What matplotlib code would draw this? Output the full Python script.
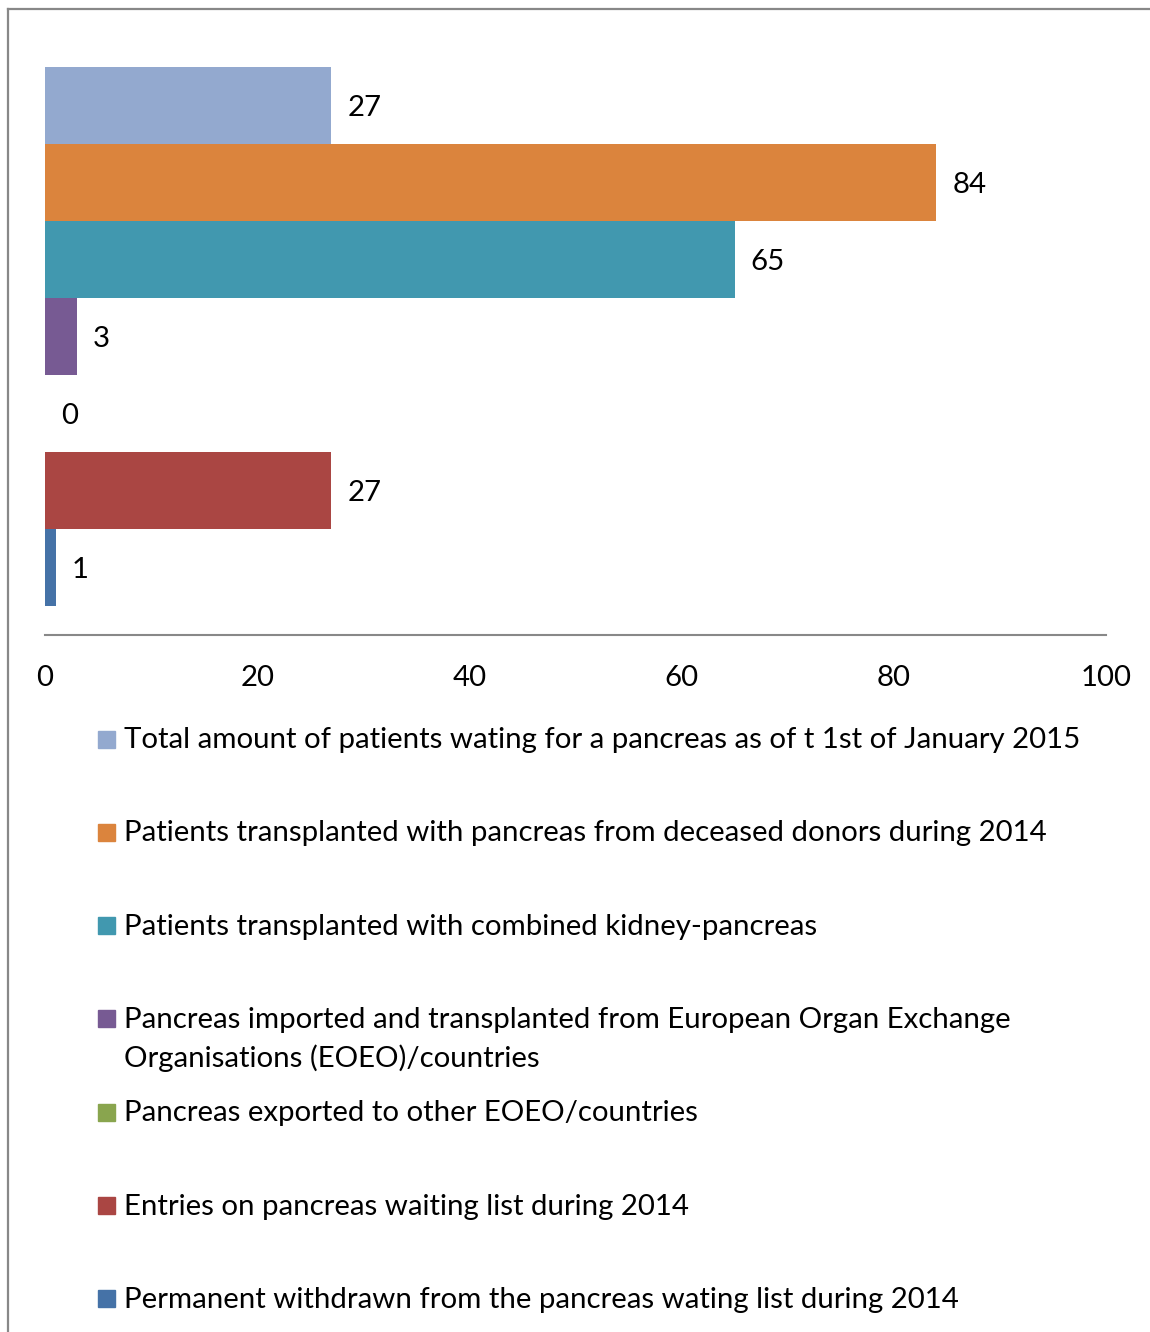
import matplotlib

matplotlib.use("Agg")
import matplotlib.pyplot as plt
from matplotlib.patches import Rectangle
from matplotlib.lines import Line2D

# series, top to bottom as drawn
labels = [
    "Total amount of patients wating for a pancreas as of t 1st of January 2015",
    "Patients transplanted with pancreas from deceased donors during 2014",
    "Patients transplanted with combined kidney-pancreas",
    "Pancreas imported and transplanted from European Organ Exchange\nOrganisations (EOEO)/countries",
    "Pancreas exported to other EOEO/countries",
    "Entries on pancreas waiting list during 2014",
    "Permanent withdrawn from the pancreas wating list during 2014",
]
values = [27, 84, 65, 3, 0, 27, 1]
colors = ["#93A9CF", "#DB843D", "#4198AF", "#775A93", "#89A54E", "#AA4643", "#4572A7"]
xticks = [0, 20, 40, 60, 80, 100]

W, H = 1150, 1332
plt.rcParams["font.family"] = ["Lato", "DejaVu Sans"]
FS = 21.2

fig = plt.figure(figsize=(W / 100, H / 100), dpi=100)

# plot area in pixels: x 45..1106, y 38..635
ax = fig.add_axes([45 / W, 1 - 635 / H, (1106 - 45) / W, (635 - 38) / H])
pos = list(range(len(values)))
ax.barh(pos, values, height=1.0, color=colors)
ax.set_xlim(0, 100)
gap = 29 / 77
ax.set_ylim(len(values) - 0.5 + gap, -0.5 - gap)

for p, v in zip(pos, values):
    ax.annotate(str(v), (v, p), xytext=(11.5, -1.5), textcoords="offset points",
                ha="left", va="center", fontsize=FS, color="black")

for s in ["top", "right", "left"]:
    ax.spines[s].set_visible(False)
ax.spines["bottom"].set_color("#888888")
ax.spines["bottom"].set_linewidth(1.5)
ax.set_yticks([])
ax.set_xticks(xticks)
ax.tick_params(axis="x", length=0, pad=21.5, labelsize=FS)

# outer frame (only left and top visible in the crop)
fig.add_artist(Line2D([8 / W, 8 / W], [0, 1 - 9 / H], color="#888888", lw=1.6,
                      transform=fig.transFigure))
fig.add_artist(Line2D([8 / W, 1], [1 - 9 / H, 1 - 9 / H], color="#888888", lw=1.6,
                      transform=fig.transFigure))

# legend, drawn by hand so the wrapped entry keeps its marker on the first line
row0, step = 739, 93.3
for i, (lab, c) in enumerate(zip(labels, colors)):
    yc = row0 + i * step
    fig.add_artist(Rectangle((98 / W, 1 - (yc + 8.5) / H), 17 / W, 17 / H,
                             color=c, transform=fig.transFigure))
    fig.text(124 / W, 1 - (yc - 12) / H, lab, ha="left", va="top",
             fontsize=FS, linespacing=1.5)

fig.savefig("out.png", dpi=100)
